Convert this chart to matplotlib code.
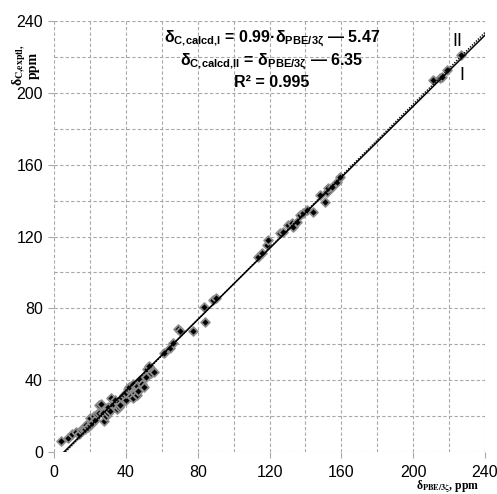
import matplotlib
matplotlib.use("Agg")
import matplotlib.pyplot as plt
import numpy as np

plt.rcParams["mathtext.fontset"] = "custom"
plt.rcParams["mathtext.rm"] = "Liberation Sans"
plt.rcParams["mathtext.bf"] = "Liberation Sans:bold"
plt.rcParams["mathtext.it"] = "Liberation Sans:italic"

# data: x = delta_PBE/3zeta, y = delta_C,exptl
x_calc = [4, 8, 10, 12, 14, 15, 16, 17, 18, 19, 20, 20, 21, 22, 23, 24, 25, 25, 26, 27,
          28, 29, 30, 30, 31, 32, 33, 34, 35, 36, 36, 37, 38, 39, 40, 40, 41, 42, 43, 44,
          44, 45, 46, 46, 47, 48, 49, 50, 51, 52, 53, 54, 55,
          55.7, 61.2, 64.6, 66.4, 69.2, 70.2, 77.6, 83.5, 84.1, 88.7, 90.2,
          113.8, 115.6, 118.4, 119.3, 125.8, 127.7, 130.4, 132.3, 133.2, 135.1, 137,
          138.9, 140.7, 144.4, 148.1, 150.9, 151.8, 152.7, 154.6, 157.4, 159.2,
          211.2, 214.9, 215.9, 218.7, 226.6]
y_expt = [6, 8, 10, 11, 10, 12, 13, 13, 15, 14, 19, 15, 16, 20, 18, 21, 26, 22, 27, 22,
          17, 20, 25, 22, 23, 30, 27, 29, 24, 28, 25, 26, 30, 32, 29, 33, 35, 36, 31, 38,
          30, 33, 37, 32, 34, 40, 38, 36, 42, 46, 48, 44, 45,
          44.7, 55, 57.7, 60.9, 68.3, 67.2, 67.5, 80.9, 72.6, 84.6, 85.6,
          108.7, 110.6, 115.3, 118, 121.8, 122.7, 126.4, 127.3, 125.4, 128.2, 132,
          132.9, 134.7, 133.8, 143.1, 139.4, 145, 146.8, 147.7, 150.5, 153.3,
          207.1, 208, 209, 212.7, 221]

slope_I, icpt_I = 0.99, -5.47
slope_II, icpt_II = 1.0, -6.35
ticks = [0, 40, 80, 120, 160, 200, 240]

fig = plt.figure(figsize=(4.97, 4.94), dpi=100)
ax = fig.add_axes([0.1087, 0.085, 0.8672, 0.8725])
ax.set_xlim(0, 240)
ax.set_ylim(0, 240)

gc = "#a8a8a8"
for g in np.arange(0, 241, 20):
    ax.axvline(g, color=gc, lw=0.8, ls=(0, (3, 2)), zorder=0)
    ax.axhline(g, color=gc, lw=0.8, ls=(0, (3, 2)), zorder=0)
for s in ax.spines.values():
    s.set_visible(False)

ax.set_xticks(ticks)
ax.set_yticks(ticks)
ax.tick_params(axis="both", length=4, color=gc, labelsize=11.5)
ax.tick_params(axis="x", pad=5)
ax.tick_params(axis="y", pad=4)
for lab in ax.get_xticklabels() + ax.get_yticklabels():
    lab.set_family("Liberation Sans")

ax.scatter(x_calc, y_expt, marker="D", s=20, c="black", edgecolors="#8c8c8c",
           linewidths=1.3, zorder=3)

x0 = -icpt_I / slope_I
xs = np.array([x0, 240])
ax.plot(xs, slope_I * xs + icpt_I, color="black", lw=1.1, zorder=4)
x0b = -icpt_II / slope_II
xs2 = np.array([x0b, 240])
ax.plot(xs2, slope_II * xs2 + icpt_II, color="black", lw=1.0, ls=(0, (1, 1)), zorder=4)

bold = dict(family="Liberation Sans", fontweight="bold", fontsize=11.5, ha="center",
            va="center", transform=fig.transFigure, math_fontfamily="custom")
fig.text(0.547, 0.922, r"δ$_{\mathbf{C{,}calcd{,}I}}$ = 0.99·δ$_{\mathbf{PBE/3ζ}}$ — 5.47", **bold)
fig.text(0.547, 0.874, r"δ$_{\mathbf{C{,}calcd{,}II}}$ = δ$_{\mathbf{PBE/3ζ}}$ — 6.35", **bold)
fig.text(0.547, 0.834, "R² = 0.995", **bold)

fig.text(0.92, 0.915, "II", family="Liberation Sans", fontsize=13, ha="center", va="center")
fig.text(0.93, 0.848, "I", family="Liberation Sans", fontsize=13, ha="center", va="center")

fig.text(0.05, 0.868, "δ$_{\\mathbf{C{,}exptl{,}}}$\nppm", family="Liberation Serif",
         fontweight="bold", fontsize=10, rotation=90, ha="center", va="center",
         linespacing=0.85, multialignment="center", math_fontfamily="stix")
fig.text(0.9, 0.015, "δ$_{\\mathbf{PBE/3ζ}}$, ppm", family="Liberation Serif",
         fontweight="bold", fontsize=8.5, ha="center", va="center", math_fontfamily="stix")

fig.savefig("out.png", dpi=100)
